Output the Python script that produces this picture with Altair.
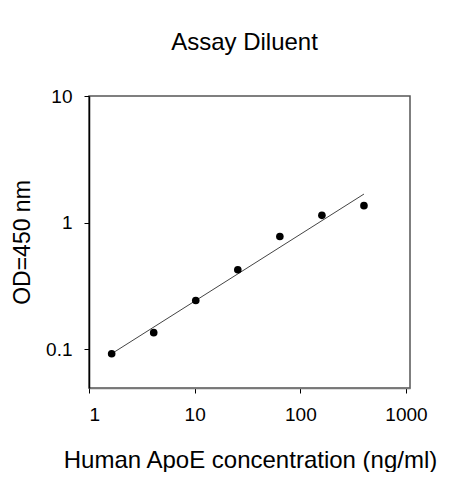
import altair as alt
import pandas as pd

# Standard curve data
conc = [1.6384, 4.096, 10.24, 25.6, 64, 160, 400]
od = [0.092, 0.135, 0.242, 0.424, 0.776, 1.14, 1.36]

# Fitted line endpoints
fit_x = [1.6384, 400]
fit_y = [0.092, 1.68]

x_ticks = [1, 10, 100, 1000]
y_ticks = [0.1, 1, 10]

pts = pd.DataFrame({"conc": conc, "od": od})
fit = pd.DataFrame({"conc": fit_x, "od": fit_y})

FONT = "Liberation Sans"

xscale = alt.Scale(type="log", domain=[1, 1091], nice=False)
yscale = alt.Scale(type="log", domain=[0.0493, 10], nice=False)

xaxis = alt.Axis(
    values=x_ticks, format="~g", grid=False, title="Human ApoE concentration (ng/ml)",
    labelFontSize=19, labelFont=FONT, labelColor="black", labelPadding=12,
    tickSize=5, tickColor="black", domainColor="#777777", domainWidth=1.5,
    titleFont=FONT, titleFontSize=24, titleFontWeight="normal", titleColor="black",
    titleX=161, titleY=79, titleBaseline="alphabetic", titleAlign="center",
)
yaxis = alt.Axis(
    values=y_ticks, format="~g", grid=False, title="OD=450 nm",
    labelFontSize=19, labelFont=FONT, labelColor="black", labelPadding=12,
    tickSize=5, tickColor="black", domainColor="black", domainWidth=1.5,
    titleFont=FONT, titleFontSize=23, titleFontWeight="normal", titleColor="black",
    titleX=-67, titleY=146, titleAngle=-90, titleBaseline="middle", titleAlign="center",
)

line = alt.Chart(fit).mark_line(color="#444444", strokeWidth=1).encode(
    x=alt.X("conc:Q", scale=xscale, axis=xaxis),
    y=alt.Y("od:Q", scale=yscale, axis=yaxis),
)
points = alt.Chart(pts).mark_circle(color="black", opacity=1, size=58).encode(
    x=alt.X("conc:Q", scale=xscale),
    y=alt.Y("od:Q", scale=yscale),
)

chart = (
    alt.layer(line, points)
    .properties(
        width=321,
        height=292,
        background="white",
        title=alt.TitleParams(
            "Assay Diluent", font=FONT, fontSize=24, fontWeight="normal",
            color="black", anchor="middle", frame="group", baseline="alphabetic",
            offset=13, dx=-5,
        ),
        autosize=alt.AutoSizeParams(type="none"),
        padding={"left": 81, "top": 88, "right": 45, "bottom": 84},
    )
    .configure_view(stroke="#555555", strokeWidth=1.5, strokeOpacity=1)
)

chart.save("out.html", embed_options={"renderer": "svg", "actions": False})
